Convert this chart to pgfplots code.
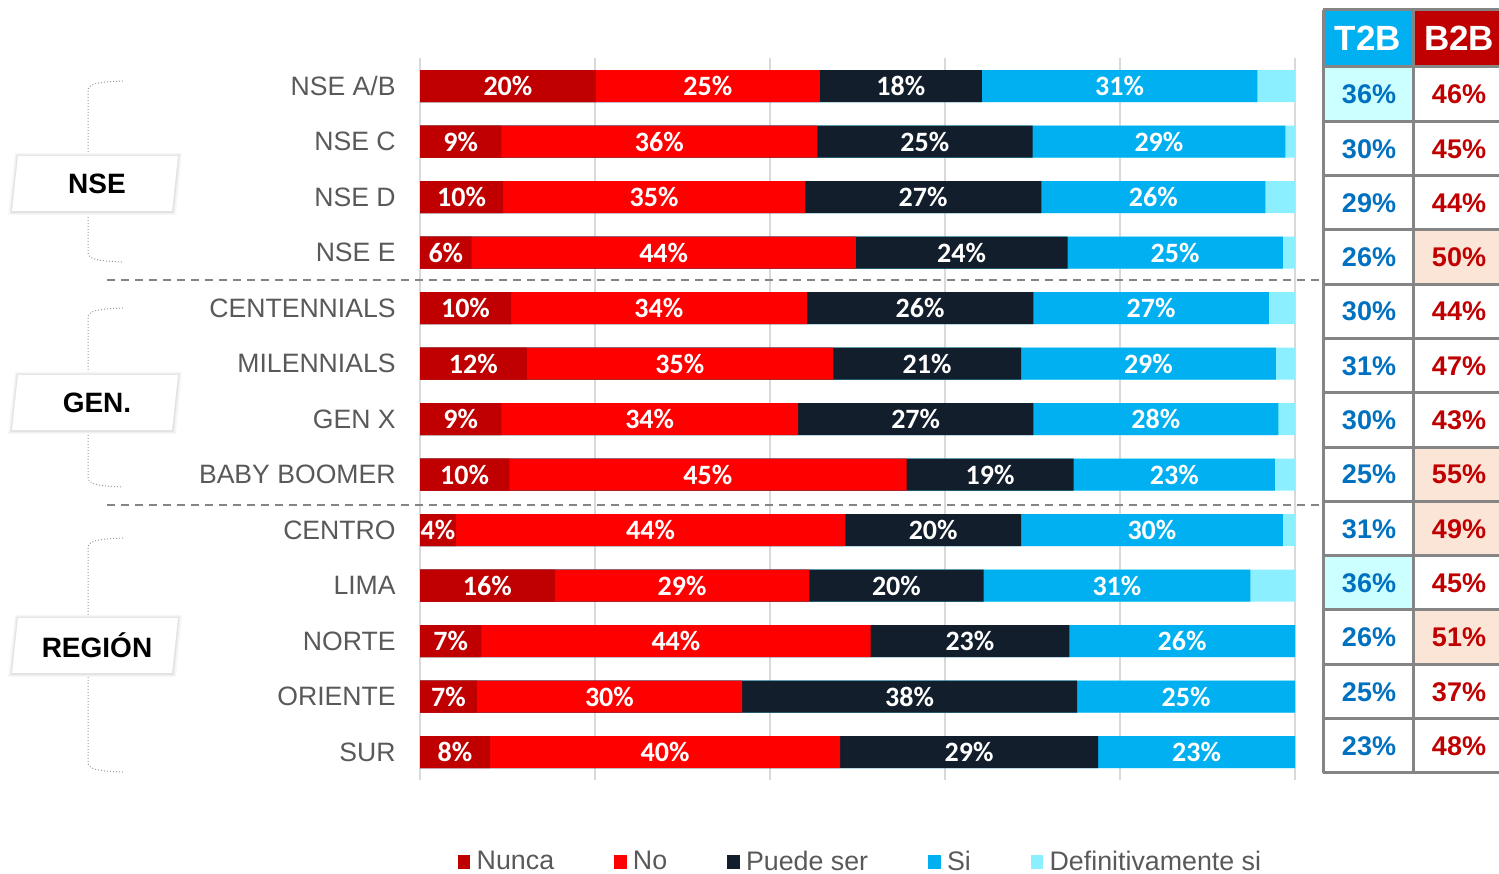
\documentclass[border=0pt]{standalone}
\usepackage{pgfplots}
\pgfplotsset{compat=1.18}
\usepackage{pgfplotstable}
\usepackage{fontspec}
\setmainfont{Liberation Sans}
\newfontfamily\carlito{Carlito}
\definecolor{cNunca}{HTML}{C00000}
\definecolor{cNo}{HTML}{FF0000}
\definecolor{cPuede}{HTML}{131E2C}
\definecolor{cSi}{HTML}{00B0F0}
\definecolor{cDef}{HTML}{8CEFFF}
\definecolor{labgray}{HTML}{595959}
\definecolor{gridgray}{HTML}{D9D9D9}
\definecolor{tabgray}{HTML}{858585}
\definecolor{tblue}{HTML}{0070C0}
\definecolor{tred}{HTML}{C00000}
\definecolor{hcyan}{HTML}{CCFFFF}
\definecolor{hpeach}{HTML}{FBE5D6}

\pgfplotstableread{
row nunca no   puede si   def l1 l2 l3 l4
0   20.1  25.6 18.5  31.5 4.3 20 25 18 31
1   9.3   36.1 24.6  28.9 1.1 9  36 25 29
2   9.5   34.5 27.0  25.6 3.4 10 35 27 26
3   5.9   43.9 24.2  24.6 1.4 6  44 24 25
4   10.4  33.8 25.9  26.9 3.0 10 34 26 27
5   12.2  35.0 21.5  29.1 2.2 12 35 21 29
6   9.3   33.9 26.9  28.0 1.9 9  34 27 28
7   10.2  45.4 19.1  23.0 2.3 10 45 19 23
8   4.1   44.5 20.1  29.9 1.4 4  44 20 30
9   15.4  29.1 19.9  30.5 5.1 16 29 20 31
10  7.0   44.5 22.7  25.8 0.0 7  44 23 26
11  6.5   30.3 38.3  24.9 0.0 7  30 38 25
12  8.0   40.0 29.5  22.5 0.0 8  40 29 23
}\data
\pgfplotstablecreatecol[create col/expr={\thisrow{nunca}+\thisrow{no}}]{c2}{\data}
\pgfplotstablecreatecol[create col/expr={\thisrow{c2}+\thisrow{puede}}]{c3}{\data}
\pgfplotstablecreatecol[create col/expr={\thisrow{c3}+\thisrow{si}}]{c4}{\data}
\pgfplotstablecreatecol[create col/expr={\thisrow{c4}+\thisrow{def}}]{c5}{\data}
\pgfplotstablecreatecol[create col/expr={\thisrow{nunca}/2}]{m1}{\data}
\pgfplotstablecreatecol[create col/expr={\thisrow{nunca}+\thisrow{no}/2}]{m2}{\data}
\pgfplotstablecreatecol[create col/expr={\thisrow{c2}+\thisrow{puede}/2}]{m3}{\data}
\pgfplotstablecreatecol[create col/expr={\thisrow{c3}+\thisrow{si}/2}]{m4}{\data}

\pgfplotsset{
  barseg/.style={xbar, bar width=16pt, bar shift=0pt, draw=none, forget plot},
  seglab/.style={draw=none, mark=none, forget plot, nodes near coords={\pgfplotspointmeta\%},
    point meta=explicit symbolic,
    every node near coord/.append style={anchor=center, inner sep=0pt, text=white,
      font=\carlito\bfseries\fontsize{14}{15}\selectfont}},
}

\begin{document}
\begin{tikzpicture}
\useasboundingbox (0,0) rectangle (749.5pt,436.5pt);
\begin{axis}[
  at={(210pt,46.625pt)}, anchor=south west,
  scale only axis, width=437.5pt, height=360.75pt,
  xmin=0, xmax=100, ymin=-0.5, ymax=12.5, y dir=reverse,
  enlargelimits=false,
  xtick={0,20,40,60,80,100}, xticklabels={},
  xmajorgrids, grid style={gridgray, line width=0.75pt},
  major tick length=0pt,
  ytick={0,...,12},
  yticklabels={NSE A/B,NSE C,NSE D,NSE E,CENTENNIALS,MILENNIALS,GEN X,BABY BOOMER,CENTRO,LIMA,NORTE,ORIENTE,SUR},
  yticklabel style={font=\fontsize{13.3}{14}\selectfont, text=labgray, inner sep=0pt, xshift=-12pt},
  axis line style={draw=none},
  legend columns=5,
  legend image code/.code={\fill[#1,draw=none] (0pt,-3.5pt) rectangle (6.2pt,3.5pt);},
  legend style={at={(0.5046,-0.114)}, anchor=center, draw=none, fill=none,
    font=\fontsize{13.4}{14}\selectfont, text=labgray, inner sep=0pt,
    /tikz/every odd column/.append style={column sep=1.2pt},
    /tikz/every even column/.append style={column sep=28pt}},
  legend cell align=left,
]
\addlegendimage{fill=cNunca}\addlegendentry{Nunca}
\addlegendimage{fill=cNo}\addlegendentry{No}
\addlegendimage{fill=cPuede}\addlegendentry{Puede ser}
\addlegendimage{fill=cSi}\addlegendentry{Si}
\addlegendimage{fill=cDef}\addlegendentry{Definitivamente si}

\addplot[barseg, fill=cDef] table[x=c5, y=row]{\data};
\addplot[barseg, fill=cSi] table[x=c4, y=row]{\data};
\addplot[barseg, fill=cPuede] table[x=c3, y=row]{\data};
\addplot[barseg, fill=cNo] table[x=c2, y=row]{\data};
\addplot[barseg, fill=cNunca] table[x=nunca, y=row]{\data};

\addplot[seglab] table[x=m1, y=row, meta=l1]{\data};
\addplot[seglab] table[x=m2, y=row, meta=l2]{\data};
\addplot[seglab] table[x=m3, y=row, meta=l3]{\data};
\addplot[seglab] table[x=m4, y=row, meta=l4]{\data};
\end{axis}

\begin{scope}[x=0.5pt, y=-0.5pt, yshift=436.5pt]
  % group separators
  \draw[tabgray, line width=0.9pt, dash pattern=on 4pt off 3pt] (107,280) -- (1323,280);
  \draw[tabgray, line width=0.9pt, dash pattern=on 4pt off 3pt] (107,505) -- (1323,505);
  % brackets
  \foreach \ta/\tb in {81/262, 308/487, 538/772} {
    \draw[black!40, densely dotted, line width=0.5pt]
      (123,\ta) .. controls (96,\ta+1) and (88,\ta+3) .. (88,\ta+10) -- (88,\tb-10)
      .. controls (88,\tb-3) and (96,\tb-1) .. (123,\tb);
  }
  % group labels
  \foreach \yc/\lab in {183.5/NSE, 402.5/GEN., 645.5/REGIÓN} {
    \fill[black!3] (15,\yc-30.5) -- (182,\yc-30.5) -- (176,\yc+31.5) -- (8,\yc+31.5) -- cycle;
    \fill[black!6] (16,\yc-29.5) -- (180.5,\yc-29.5) -- (174.5,\yc+30.5) -- (9.5,\yc+30.5) -- cycle;
    \fill[black!11] (17,\yc-28.5) -- (179.5,\yc-28.5) -- (173.5,\yc+29.5) -- (10.5,\yc+29.5) -- cycle;
    \fill[white] (18,\yc-27.5) -- (178,\yc-27.5) -- (172,\yc+27.5) -- (12,\yc+27.5) -- cycle;
    \node[font=\bfseries\fontsize{14}{15}\selectfont, text=black] at (97,\yc) {\lab};
  }
  % table
  \fill[cSi] (1323,10) rectangle (1413,67);
  \fill[cNunca] (1413,10) rectangle (1499,67);
  \foreach \k in {0,9} {
    \fill[hcyan] (1323,67+54.3*\k) rectangle (1413,67+54.3*\k+54.3);
  }
  \foreach \k in {3,7,8,10} {
    \fill[hpeach] (1413,67+54.3*\k) rectangle (1499,67+54.3*\k+54.3);
  }
  \draw[tabgray, line width=1.5pt] (1323,10) -- (1323,773);
  \draw[tabgray, line width=1.5pt] (1413,10) -- (1413,773);
  \draw[tabgray, line width=1.5pt] (1323,10) -- (1499,10);
  \foreach \k in {0,...,13} {
    \draw[tabgray, line width=1.5pt] (1323,67+54.3*\k) -- (1499,67+54.3*\k);
  }
  \node[font=\bfseries\fontsize{17.5}{18}\selectfont, text=white] at (1368,38.5) {T2B};
  \node[font=\bfseries\fontsize{17.5}{18}\selectfont, text=white] at (1459,38.5) {B2B};
  \foreach \t/\b [count=\i from 0] in {36/46,30/45,29/44,26/50,30/44,31/47,30/43,25/55,31/49,36/45,26/51,25/37,23/48} {
    \node[font=\bfseries\fontsize{13.5}{14}\selectfont, text=tblue] at (1369,67+54.3*\i+27.5) {\t\%};
    \node[font=\bfseries\fontsize{13.5}{14}\selectfont, text=tred] at (1459,67+54.3*\i+27.5) {\b\%};
  }
\end{scope}
\end{tikzpicture}
\end{document}
